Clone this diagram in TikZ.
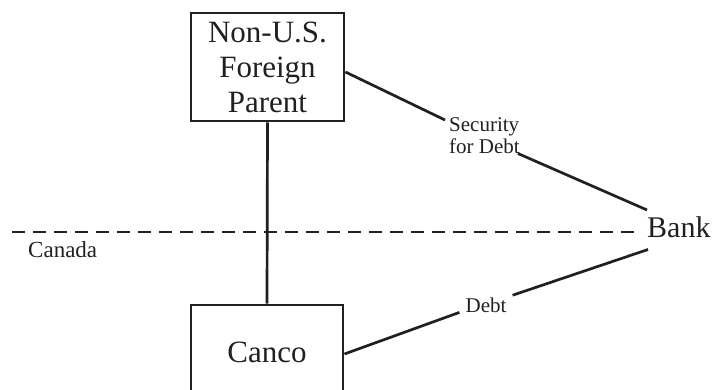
\documentclass[tikz,border=0pt]{standalone}
\usepackage{fontspec}
\setmainfont{Liberation Serif}
\definecolor{ink}{HTML}{231F20}
\begin{document}
\begin{tikzpicture}[x=1pt,y=-1pt,
  every node/.style={text=ink},
  box/.style={draw=ink,line width=2.9pt,inner sep=0pt,align=center,font=\fontsize{31}{35}\selectfont},
  lbl/.style={inner sep=0pt,align=left,font=\fontsize{21}{22}\selectfont},
  link/.style={draw=ink,line width=2.7pt},
  border/.style={draw=ink,line width=2.7pt,dash pattern=on 13pt off 8pt}]
\useasboundingbox (0,0) rectangle (714,390);
\node[box,minimum width=153pt,minimum height=108pt] (par) at (267.5,67) {Non-U.S.\\Foreign\\Parent};
\node[box,minimum width=152pt,minimum height=94pt] (canco) at (267,352) {Canco};
\node[inner sep=0pt,anchor=base west,font=\fontsize{30}{30}\selectfont] (bank) at (647,237) {Bank};
\node[lbl,anchor=north west] (sec) at (449,117) {Security\\for Debt};
\node[lbl,inner xsep=6pt,anchor=base] (debt) at (486,312) {Debt};
\node[inner sep=0pt,anchor=base west,font=\fontsize{23}{23}\selectfont] (can) at (28,257) {Canada};
\coordinate (bl) at (12,232);
\coordinate (br) at (636,232);
\draw[border] (bl) -- (br);
\draw[link] (par.south) -- (canco.north);
\draw[link] ([yshift=-5pt]par.east) -- ([xshift=-4pt,yshift=-3pt]sec.north west);
\draw[link] ([xshift=-2pt]sec.south east) -- ([yshift=6pt]bank.north west);
\draw[link] ([yshift=-2pt]canco.east) -- (debt.south west);
\draw[link] ([yshift=2pt]debt.north east) -- ([xshift=1pt,yshift=-12pt]bank.south west);
\end{tikzpicture}
\end{document}
